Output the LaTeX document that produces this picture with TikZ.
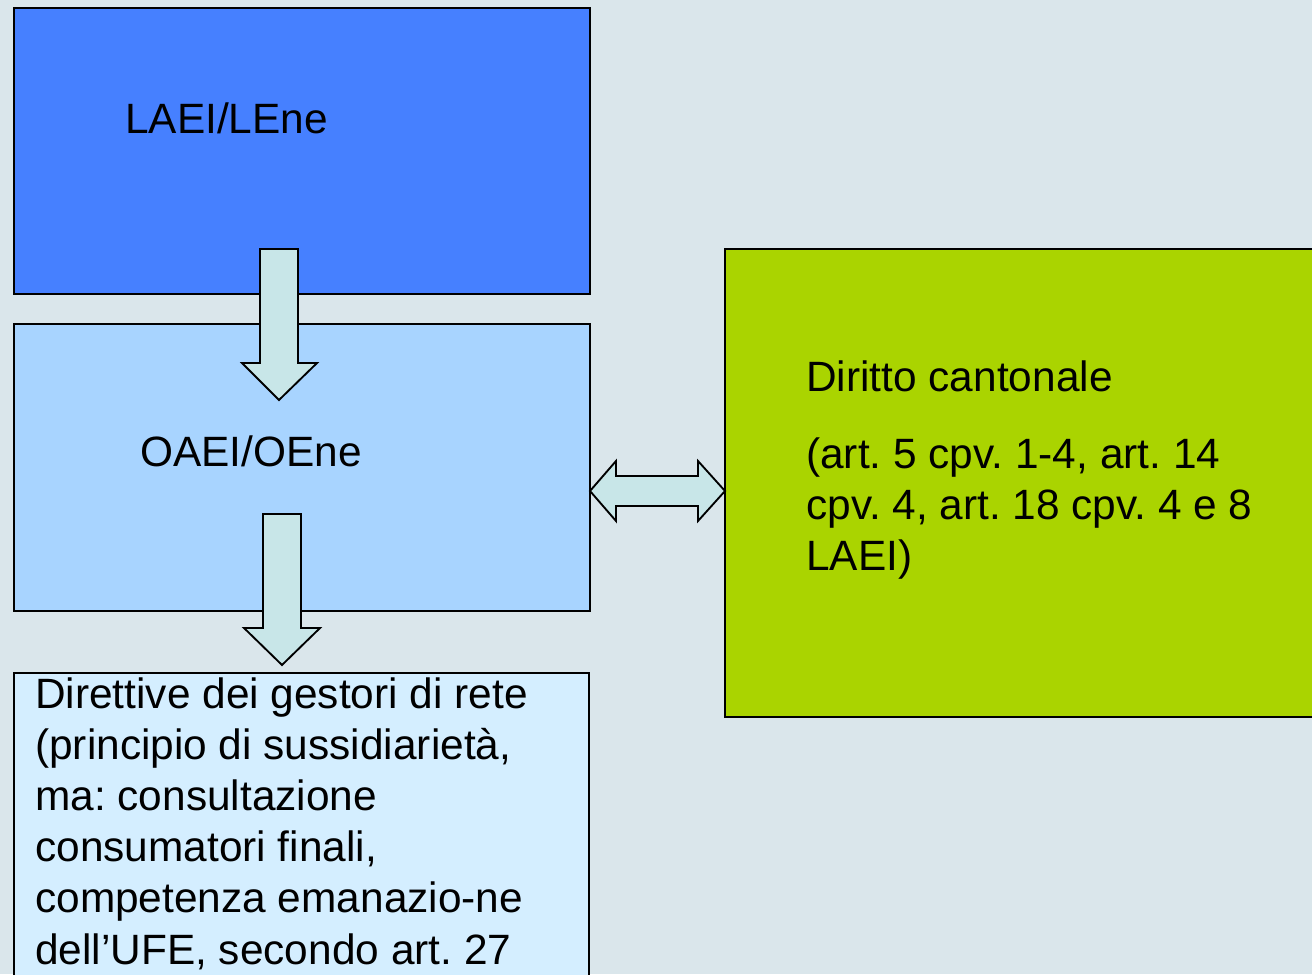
\documentclass[tikz,border=0pt]{standalone}
\usepackage{fontspec}
\setmainfont{Liberation Sans}
\frenchspacing
\definecolor{bg}{HTML}{DAE6EB}
\definecolor{dblue}{HTML}{4680FF}
\definecolor{lblue}{HTML}{A8D4FF}
\definecolor{vlblue}{HTML}{D4EEFF}
\definecolor{lgreen}{HTML}{AAD400}
\definecolor{arrfill}{HTML}{C8E6E8}
\tikzset{
  box/.style={draw=black, line width=1.2pt},
  blockarrow/.style={draw=black, fill=arrfill, line width=1.4pt, line join=miter},
  txt/.style={anchor=base west, inner sep=0pt, font=\fontsize{31.8pt}{38.3pt}\selectfont\frenchspacing},
  nextline/.style={txt, yshift=-38.4pt}
}
\begin{document}
\begin{tikzpicture}[x=0.75pt,y=-0.75pt]
\useasboundingbox (0,0) rectangle (1312,974);
\clip (0,0) rectangle (1312,974);
\fill[bg] (0,0) rectangle (1312,974);
% boxes
\draw[box, fill=dblue] (14,8) rectangle (590,294);
\draw[box, fill=lblue] (14,324) rectangle (590,611);
\draw[box, fill=vlblue] (14,673) rectangle (589,990);
\draw[box, fill=lgreen] (725,249) rectangle (1330,717);
% arrows
\draw[blockarrow] (260,249) -- (298,249) -- (298,363) -- (317,363) -- (279,400) -- (242,363) -- (260,363) -- cycle;
\draw[blockarrow] (263,514) -- (301,514) -- (301,628) -- (320,628) -- (282,665) -- (244,628) -- (263,628) -- cycle;
\draw[blockarrow] (590,491) -- (616,461) -- (616,476) -- (698,476) -- (698,461) -- (725,491) -- (698,521) -- (698,506) -- (616,506) -- (616,521) -- cycle;
% texts
\node[txt] (t1) at (125,133) {LAEI/LEne};
\node[txt] (t2) at (140,466) {OAEI/OEne};
\node[txt] (t3) at (806,391) {Diritto cantonale};
\node[txt] (t4a) at (806,468) {(art. 5 cpv. 1-4, art. 14};
\node[nextline] (t4b) at (t4a.base west) {cpv. 4, art. 18 cpv. 4 e 8};
\node[nextline] (t4c) at (t4b.base west) {LAEI)};
\node[txt] (t5a) at (35,708) {Direttive dei gestori di rete};
\node[nextline] (t5b) at (t5a.base west) {(principio di sussidiarietà,};
\node[nextline] (t5c) at (t5b.base west) {ma: consultazione};
\node[nextline] (t5d) at (t5c.base west) {consumatori finali,};
\node[nextline] (t5e) at (t5d.base west) {competenza emanazio-ne};
\node[nextline] (t5f) at (t5e.base west) {dell’UFE, secondo art. 27};
\end{tikzpicture}
\end{document}
